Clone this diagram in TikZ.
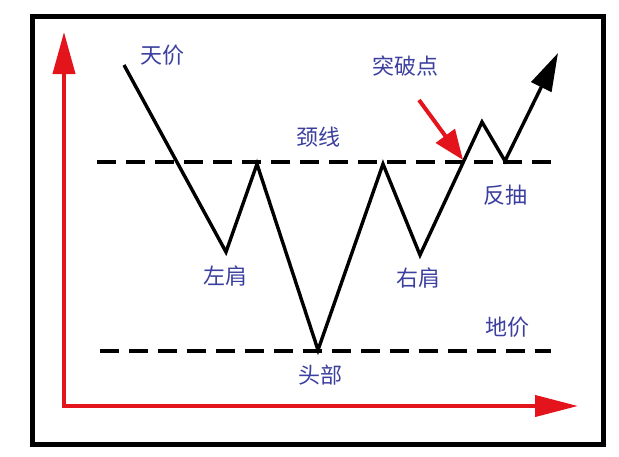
\documentclass[tikz,border=0pt]{standalone}
\usepackage{fontspec}
\newfontfamily\cjk{Noto Sans CJK SC}
\usetikzlibrary{arrows.meta}
\definecolor{rojoEje}{HTML}{E3141B}
\definecolor{azulTexto}{HTML}{3B3F9E}

\begin{document}
\begin{tikzpicture}[x=1pt,y=-1pt,>=Triangle,
  etiq/.style={font=\cjk\fontsize{22}{25}\selectfont,text=azulTexto,inner sep=0pt},
  eje/.style={rojoEje,line width=4pt},
  cuello/.style={dashed,dash pattern=on 19pt off 10pt,line width=3.5pt},
  precio/.style={line width=3.4pt}]
  \useasboundingbox (0,0) rectangle (619,456);
  \draw[line width=5pt] (32,16) rectangle (603,444);
  % ejes
  \coordinate (O) at (64,406);
  \coordinate (Y) at (64,32);
  \coordinate (X) at (578,406);
  \draw[eje,{Triangle[length=42pt,width=22pt]}-{Triangle[length=43pt,width=21pt]}]
    (Y) -- (O) -- (X);
  % lineas de cuello y de fondo
  \coordinate (N1) at (97,162);
  \coordinate (N2) at (558,162);
  \coordinate (S1) at (100,351);
  \coordinate (S2) at (551,351);
  \draw[cuello] (N1) -- (N2);
  \draw[cuello] (S1) -- (S2);
  % precio
  \coordinate (A) at (124,65);
  \coordinate (LS) at (226,252);
  \coordinate (P1) at (257,164);
  \coordinate (H) at (318,350);
  \coordinate (P2) at (383,164);
  \coordinate (RS) at (420,255);
  \coordinate (R) at (482,122);
  \coordinate (T) at (505,161);
  \coordinate (F) at (558,53);
  \coordinate (B) at (463,160);
  \draw[precio,-{Triangle[length=38pt,width=22pt]}]
    (A) -- (LS) -- (P1) -- (H) -- (P2) -- (RS) -- (R) -- (T) -- (F);
  \coordinate (Rc) at (419,100);
  \draw[eje,-{Triangle[length=30pt,width=23pt]}] (Rc) -- (B);
  % rotulos
  \node[etiq] (tianjia) at (162,55) {天价};
  \node[etiq] (tupo) at (405,66) {突破点};
  \node[etiq] (jingxian) at (318,137) {颈线};
  \node[etiq] (zuojian) at (225,276) {左肩};
  \node[etiq] (youjian) at (418,278) {右肩};
  \node[etiq] (toubu) at (320,375) {头部};
  \node[etiq] (fanchou) at (505,195) {反抽};
  \node[etiq] (dijia) at (507,327) {地价};
\end{tikzpicture}
\end{document}
